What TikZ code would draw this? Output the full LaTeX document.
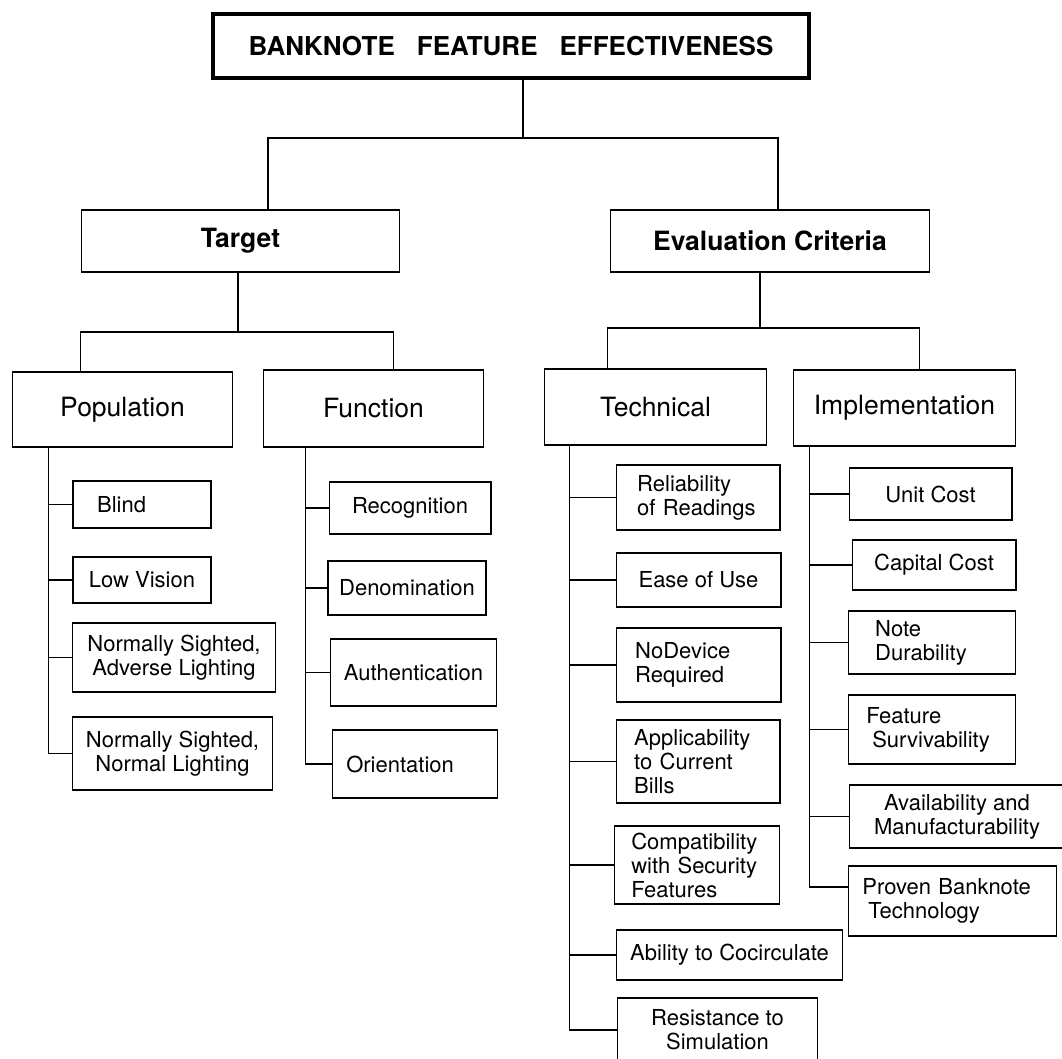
\documentclass[tikz,border=0pt]{standalone}
\usepackage{fontspec}
\setmainfont{TeX Gyre Heros}
\usepackage{tikz}
\hyphenpenalty=10000
\exhyphenpenalty=10000
\tikzset{
  box/.style={draw, line width=1.6bp, inner sep=0pt, align=center,
    font=\fontsize{22bp}{24bp}\selectfont},
  head/.style={box, font=\fontsize{26.5bp}{30bp}\selectfont},
  lft/.style={align=left, text width=#1},
  link/.style={line width=1.6bp},
}

\begin{document}
\begin{tikzpicture}[x=1bp, y=-1bp]
		\useasboundingbox (0,0) rectangle (1062,1059);
		\clip (0,0) rectangle (1062,1059);

		% top levels
		\node[box, line width=3.5bp, minimum width=598, minimum height=64, font=\fontsize{26bp}{30bp}\selectfont\bfseries] (title) at (511,46) {BANKNOTE\hspace{22bp}FEATURE\hspace{22bp}EFFECTIVENESS};
		\node[head, minimum width=319, minimum height=62, font=\fontsize{26.5bp}{30bp}\selectfont\bfseries] (tgt) at (240.5,241) {Target};
		\node[head, minimum width=320, minimum height=62, font=\fontsize{26.5bp}{30bp}\selectfont\bfseries] (evl) at (770,241) {Evaluation Criteria};
		\node[head, minimum width=221, minimum height=75] (pop) at (122.5,409.5) {Population};
		\node[head, minimum width=221, minimum height=77] (fn) at (373.5,408.5) {Function};
		\node[head, minimum width=223, minimum height=76] (tec) at (655.5,407) {Technical};
		\node[head, minimum width=223, minimum height=76] (imp) at (904.5,408) {Implementation};

		% population
		\node[box, lft=90, minimum width=138, minimum height=47] (blind) at (142,504.5) {Blind};
		\node[box, minimum width=138, minimum height=46] (lowv) at (142,580) {Low Vision};
		\node[box, minimum width=204, minimum height=69] (nsa) at (174,657.5) {Normally Sighted,\\Adverse Lighting};
		\node[box, minimum width=201, minimum height=73] (nsn) at (172.5,753.5) {Normally Sighted,\\Normal Lighting};

		% function
		\node[box, minimum width=162, minimum height=52] (rec) at (410,508) {Recognition};
		\node[box, minimum width=158, minimum height=54] (den) at (407,588) {Denomination};
		\node[box, minimum width=167, minimum height=67] (aut) at (413.5,672.5) {Authentication};
		\node[box, lft=138, minimum width=166, minimum height=68] (ori) at (415,764) {Orientation};

		% technical
		\node[box, lft=122, minimum width=164, minimum height=65] (rel) at (698,497.5) {Reliability\\of Readings};
		\node[box, minimum width=165, minimum height=54] (eas) at (698.5,580) {Ease of Use};
		\node[box, lft=127, minimum width=165, minimum height=74] (nod) at (698.5,665) {NoDevice\\Required};
		\node[box, lft=128, minimum width=164, minimum height=83] (app) at (698,761.5) {Applicability\\to Current\\Bills};
		\node[box, lft=132, minimum width=166, minimum height=78] (com) at (697,865) {Compatibility\\with Security\\Features};
		\node[box, minimum width=227, minimum height=50] (abl) at (729.5,955) {Ability to Cocirculate};
		\node[box, minimum width=201, minimum height=64] (res) at (717.5,1030) {Resistance to\\Simulation};

		% implementation
		\node[box, minimum width=163, minimum height=52] (uni) at (930.5,494) {Unit Cost};
		\node[box, minimum width=164, minimum height=50] (cap) at (934,565) {Capital Cost};
		\node[box, lft=114, minimum width=168, minimum height=63] (dur) at (932,642.5) {Note\\Durability};
		\node[box, lft=132, minimum width=168, minimum height=69] (sur) at (932,729.5) {Feature\\\hspace*{6bp}Survivability};
		\node[box, minimum width=216, minimum height=63] (ava) at (957,816.5) {Availability and\\Manufacturability};
		\node[box, lft=181, minimum width=209, minimum height=70] (prv) at (952.5,901) {Proven Banknote\\\hspace*{6bp}Technology};

		% upper connectors
		\coordinate (topbus) at (523,138);
		\coordinate (tgtbus) at (238,332);
		\coordinate (evlbus) at (760,328);
		\draw[link] (title.south -| topbus) -- (topbus);
		\draw[link] ([xshift=27.5bp]tgt.north) |- (topbus) -| ([xshift=8bp]evl.north);
		\draw[link] (tgt.south -| tgtbus) -- (tgtbus);
		\draw[link] ([xshift=69bp]pop.north west) |- (tgtbus) -| ([xshift=131bp]fn.north west);
		\draw[link] (evl.south -| evlbus) -- (evlbus);
		\draw[link] ([xshift=64bp]tec.north west) |- (evlbus) -| ([xshift=127bp]imp.north west);

		% lower connectors
		\coordinate (popbus) at ([xshift=37bp]pop.south west);
		\coordinate (fnbus) at ([xshift=43bp]fn.south west);
		\coordinate (tecbus) at ([xshift=26bp]tec.south west);
		\coordinate (impbus) at ([xshift=17bp]imp.south west);
		\draw[link] (popbus) |- (nsn.west);
		\foreach \n in {blind, lowv, nsa}
			\draw[link] (popbus |- \n.west) -- (\n.west);
		\draw[link] (fnbus) |- (ori.west);
		\foreach \n in {rec, den, aut}
			\draw[link] (fnbus |- \n.west) -- (\n.west);
		\draw[link] (tecbus) |- (res.west);
		\foreach \n in {rel, eas, nod, app, com, abl}
			\draw[link] (tecbus |- \n.west) -- (\n.west);
		\draw[link] (impbus) |- ([yshift=14bp]prv.west);
		\foreach \n in {uni, cap, dur, sur, ava}
			\draw[link] (impbus |- \n.west) -- (\n.west);

	\end{tikzpicture}
\end{document}
